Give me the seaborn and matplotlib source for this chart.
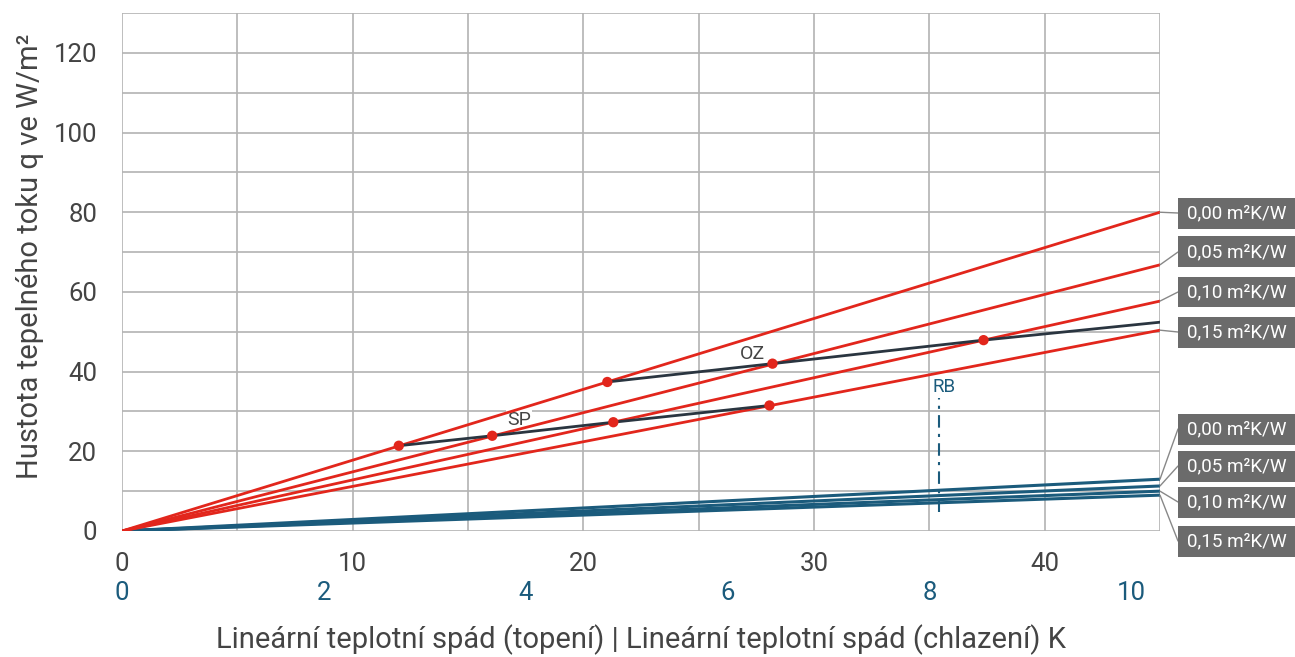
import matplotlib
matplotlib.use("Agg")
import matplotlib.pyplot as plt
import seaborn as sns
import pandas as pd
from matplotlib.patches import Rectangle, ConnectionPatch

# ---------------- data ----------------
resistances = ["0,00", "0,05", "0,10", "0,15"]
x_range = [0, 45]
heat_end = [80.0, 66.8, 57.7, 50.4]      # W/m² at 45 K (heating)
cool_end = [13.0, 11.3, 10.0, 9.0]       # W/m² at right edge (cooling)
sp_x = [12.0, 16.05, 21.3, 28.07]
sp_y = [21.4, 23.9, 27.3, 31.5]
oz_x = [21.04, 28.2, 37.35, 45.0]
oz_y = [37.4, 42.0, 47.9, 52.4]
oz_dots = 3
rb_x = 35.4
rb_y = [4.8, 33.3]
x_ticks = list(range(0, 46, 5))
y_ticks = list(range(0, 131, 10))
cool_ticks = [0, 2, 4, 6, 8, 10]
cool_scale = 35 / 8   # heating K per cooling K on the shared axis
ylabel = "Hustota tepelného toku q ve W/m²"
xlabel = "Lineární teplotní spád (topení) | Lineární teplotní spád (chlazení) K"

RED = "#e2261c"
BLUE = "#1b5b7c"
DARK = "#2a3540"
GRID = "#b3b3b3"
TXT = "#444444"
BOX = "#6b6b6b"

sns.set_theme(style="white")
plt.rcParams["font.family"] = ["Roboto", "DejaVu Sans"]

W, H = 1295, 657
fig = plt.figure(figsize=(W / 100, H / 100), dpi=100)
ax = fig.add_axes([122 / W, 1 - 531 / H, (1160 - 122) / W, (531 - 13) / H])

heat_df = pd.DataFrame([(r, x, x / x_range[1] * e) for r, e in zip(resistances, heat_end) for x in x_range],
                       columns=["R", "x", "q"])
cool_df = pd.DataFrame([(r, x, x / x_range[1] * e) for r, e in zip(resistances, cool_end) for x in x_range],
                       columns=["R", "x", "q"])

sns.lineplot(data=cool_df, x="x", y="q", hue="R", palette=[BLUE] * 4, lw=2.2,
             legend=False, ax=ax, zorder=3)
sns.lineplot(data=heat_df, x="x", y="q", hue="R", palette=[RED] * 4, lw=2.0,
             legend=False, ax=ax, zorder=4)
sns.lineplot(x=sp_x, y=sp_y, color=DARK, lw=2.0, ax=ax, zorder=5, sort=False)
sns.lineplot(x=oz_x, y=oz_y, color=DARK, lw=2.0, ax=ax, zorder=5, sort=False)
sns.scatterplot(x=sp_x + oz_x[:oz_dots], y=sp_y + oz_y[:oz_dots], color=RED, s=55,
                edgecolor="none", ax=ax, zorder=6)
ax.plot([rb_x, rb_x], rb_y, color=BLUE, lw=1.5, ls=(0, (6, 3, 1.5, 3)), zorder=6)

ax.text(16.7, 27.9, "SP", fontsize=14, color=TXT, ha="left", va="center", zorder=2.5,
        bbox=dict(facecolor="white", edgecolor="none", pad=0.5))
ax.text(26.8, 44.3, "OZ", fontsize=14, color=TXT, ha="left", va="center", zorder=7)
ax.text(35.15, 36.2, "RB", fontsize=13.5, color=BLUE, ha="left", va="center", zorder=7)

ax.set_xlim(0, 45)
ax.set_ylim(0, 130)
ax.set_xticks(x_ticks)
ax.set_yticks(y_ticks)
ax.set_xticklabels([str(t) if t % 10 == 0 else "" for t in x_ticks])
ax.set_yticklabels([str(t) if t % 20 == 0 else "" for t in y_ticks])
ax.grid(True, color=GRID, lw=1.2)
for s in ax.spines.values():
    s.set_visible(False)
ax.tick_params(axis="both", length=10, width=1.2, color=GRID, labelsize=18.5, labelcolor=TXT)
ax.tick_params(axis="x", pad=5)
ax.tick_params(axis="y", pad=8)

sec = ax.secondary_xaxis("bottom", functions=(lambda x: x / cool_scale, lambda k: k * cool_scale))
sec.set_xticks(cool_ticks)
sec.tick_params(length=0, pad=36, labelsize=18.5, labelcolor=BLUE)
for s in sec.spines.values():
    s.set_visible(False)

ax.set_xlabel(xlabel, fontsize=21, color=TXT)
ax.xaxis.set_label_coords(0.5, -0.21)
ax.xaxis.label.set_verticalalignment("center")
ax.set_ylabel(ylabel, fontsize=21, color=TXT)
ax.yaxis.set_label_coords(-0.0886, 0.531)
ax.yaxis.label.set_verticalalignment("center")

# right-hand resistance boxes
box_left = 1178
box_h = 31
red_centers = [213, 252, 292, 332]
blue_centers = [429, 466, 502, 541]
for ends, centers in ((heat_end, red_centers), (cool_end, blue_centers)):
    for r, e, c in zip(resistances, ends, centers):
        fig.patches.append(Rectangle((box_left / W, 1 - (c + box_h / 2) / H), (W - box_left) / W, box_h / H,
                                     transform=fig.transFigure, facecolor=BOX, edgecolor="none", zorder=1))
        fig.text((W + box_left) / 2 / W, 1 - c / H, f"{r} m²K/W", color="white", fontsize=13.6,
                 ha="center", va="center")
        con = ConnectionPatch(xyA=(x_range[1], e), coordsA=ax.transData,
                              xyB=(box_left / W, 1 - c / H), coordsB=fig.transFigure,
                              color="#888888", lw=1.0)
        fig.add_artist(con)

fig.savefig("out.png", dpi=100)
